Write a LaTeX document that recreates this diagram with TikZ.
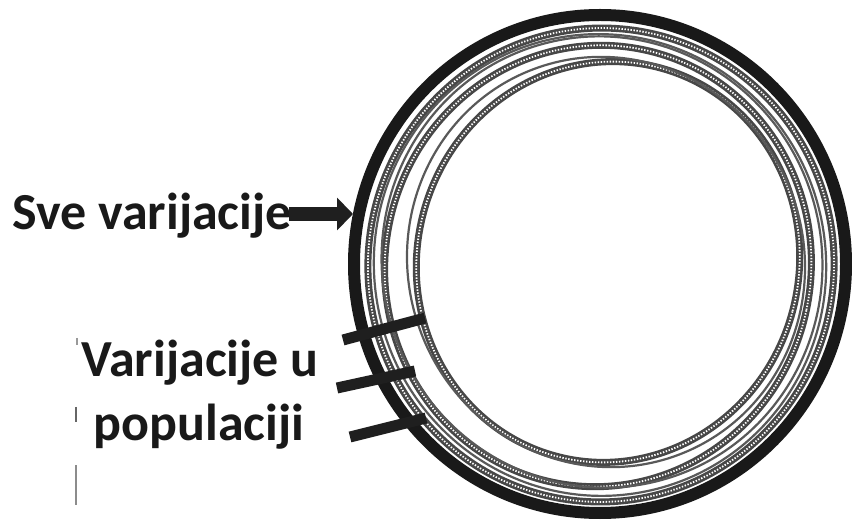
\documentclass[tikz,border=0pt]{standalone}
\usepackage{fontspec}
\setmainfont{Carlito}
\usetikzlibrary{arrows.meta}
\tikzset{
  lbl/.style={font=\bfseries\fontsize{52}{60}\selectfont, inner sep=0pt, text=black!90},
  ringg/.style={draw=black!72, line width=7pt},
  ringdots/.style={draw=white, line width=1.8pt, dash pattern=on 1.4pt off 1.6pt},
  thinring/.style={draw=black!65, line width=2.2pt},
  bar/.style={draw=black!88, line width=11pt, line cap=butt},
  bigarrow/.style={draw=black!88, line width=14pt, -{Triangle[length=16pt,width=32pt]}},
  tickmark/.style={draw=black!45, line width=1.8pt}
}
\begin{document}
\begin{tikzpicture}[x=1pt,y=-1pt]
\useasboundingbox[fill=white] (0,0) rectangle (852,521);
% grey textured rings
\draw[ringg] (601,265) ellipse [x radius=233, y radius=237, rotate=-8];
\draw[ringdots] (601,265) ellipse [x radius=233, y radius=237, rotate=-8];
\draw[thinring] (600,265) ellipse [x radius=226, y radius=231, rotate=10];
\draw[ringg] (598,266) ellipse [x radius=213, y radius=221, rotate=-12];
\draw[ringdots] (598,266) ellipse [x radius=213, y radius=221, rotate=-12];
\draw[thinring] (602,262) ellipse [x radius=220, y radius=226, rotate=15];
\draw[ringg] (608,262) ellipse [x radius=191, y radius=201, rotate=-15];
\draw[ringdots] (608,262) ellipse [x radius=191, y radius=201, rotate=-15];
\draw[thinring] (606,262) ellipse [x radius=198, y radius=206, rotate=20];
% outer black ring
\draw[black!90, line width=12pt] (600,264) ellipse [x radius=246, y radius=249];
% labels
\node[lbl, anchor=base west] (sve) at (12,230) {Sve varijacije};
\node[lbl, anchor=base] (var) at (200,377) {Varijacije u};
\node[lbl, anchor=base] (pop) at (199,440) {populaciji};
% arrow and bars
\coordinate (sveS) at (289,214);
\coordinate (sveT) at (353,214);
\draw[bigarrow] (sveS) -- (sveT);
\coordinate (b1s) at (343,340); \coordinate (b1e) at (425,318);
\coordinate (b2s) at (337,388); \coordinate (b2e) at (415,371);
\coordinate (b3s) at (350,437); \coordinate (b3e) at (426,418);
\draw[bar] (b1s) -- (b1e);
\draw[bar] (b2s) -- (b2e);
\draw[bar] (b3s) -- (b3e);
% small marks
\coordinate (m1a) at (77,338); \coordinate (m1b) at (77,345);
\coordinate (m2a) at (76,407); \coordinate (m2b) at (76,422);
\coordinate (m3a) at (76,465); \coordinate (m3b) at (76,505);
\draw[tickmark, draw=black!40] (m1a) -- (m1b);
\draw[tickmark, draw=black!60] (m2a) -- (m2b);
\draw[tickmark] (m3a) -- (m3b);
\end{tikzpicture}
\end{document}
